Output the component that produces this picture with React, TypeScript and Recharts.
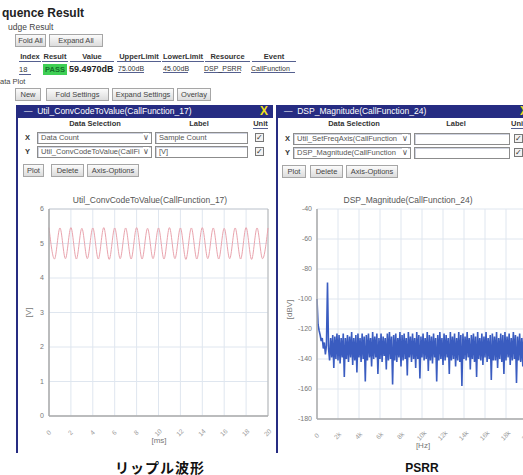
import React from "react";
import { CartesianGrid, Line, LineChart, ReferenceLine, XAxis, YAxis } from "recharts";

// ripple waveform (Util_ConvCodeToValue), one peak / trough every 0.5 ms
const RIPPLE_STEP_MS = 0.5;
const rippleVolts = [
  5.46, 4.55, 5.45, 4.56, 5.46, 4.55, 5.44, 4.56, 5.45, 4.55, 5.46, 4.54, 5.45, 4.56, 5.45, 4.55, 5.46, 4.55, 5.44, 4.56,
  5.45, 4.55, 5.46, 4.56, 5.45, 4.54, 5.45, 4.55, 5.46, 4.56, 5.45, 4.55, 5.44, 4.56, 5.45, 4.55, 5.46, 4.54, 5.45, 4.56,
  5.45,
];
const rippleMsTicks = [0, 2, 4, 6, 8, 10, 12, 14, 16, 18, 20];
const rippleVoltTicks = [0, 1, 2, 3, 4, 5, 6];

// PSRR spectrum (DSP_Magnitude), 100 Hz bins
const PSRR_BIN_HZ = 100;
const psrrDbv = [
  -100, -117, -121, -124, -128, -126, -133, -129, -137, -131, -89, -133, -141, -126, -139, -124, -146, -125, -140, -123,
  -141, -124, -143, -126, -139, -123, -152, -126, -140, -124, -142, -125, -139, -122, -144, -126, -141, -124, -149, -123,
  -139, -126, -142, -123, -140, -125, -155, -124, -141, -123, -139, -126, -145, -122, -140, -125, -139, -123, -150, -126,
  -140, -123, -142, -125, -138, -126, -147, -123, -141, -122, -140, -125, -157, -124, -141, -123, -142, -126, -139, -122,
  -145, -124, -141, -123, -140, -126, -151, -122, -139, -125, -142, -123, -140, -126, -146, -122, -140, -124, -153, -125,
  -139, -123, -141, -126, -140, -122, -148, -124, -141, -125, -143, -123, -139, -126, -155, -124, -141, -122, -140, -126,
  -144, -123, -141, -124, -139, -126, -150, -122, -141, -125, -140, -123, -145, -126, -141, -122, -142, -124, -158, -123,
  -140, -125, -141, -122, -139, -126, -147, -124, -140, -123, -142, -125, -152, -122, -140, -126, -141, -123, -144, -125,
  -139, -122, -142, -126, -140, -124, -154, -123, -141, -125, -141, -122, -146, -126, -140, -123, -142, -124, -150, -122,
  -141, -125, -139, -123, -144, -126, -141, -122, -140, -124, -156, -125, -141, -123, -142, -126, -145, -122, -140, -124,
  -141,
];
const psrrHzTicks = [0, 2000, 4000, 6000, 8000, 10000, 12000, 14000, 16000, 18000, 20000];
const psrrHzLabels = ["0", "2k", "4k", "6k", "8k", "10k", "12k", "14k", "16k", "18k", "20k"];
const psrrDbTicks = [-180, -160, -140, -120, -100, -80, -60, -40];

const rippleData = rippleVolts.map((v, i) => ({ t: i * RIPPLE_STEP_MS, v }));
const psrrData = psrrDbv.map((db, i) => ({ f: i * PSRR_BIN_HZ, db }));

const FONT = '"Liberation Sans", Arial, sans-serif';
const NAVY = "#262c82";

const abs = (x: number, y: number, w?: number, h?: number, extra: React.CSSProperties = {}): React.CSSProperties => ({
  position: "absolute",
  left: x,
  top: y,
  width: w,
  height: h,
  boxSizing: "border-box",
  whiteSpace: "nowrap",
  ...extra,
});

function Txt({ x, y, t, size = 8, bold = false, color = "#333", w, align, underline }: any) {
  return (
    <div
      style={abs(x, y, w, undefined, {
        fontSize: size,
        fontWeight: bold ? 700 : 400,
        color,
        textAlign: align,
        lineHeight: "normal",
        borderBottom: underline ? "1px solid #55608f" : undefined,
      })}
    >
      {t}
    </div>
  );
}

function Btn({ x, y, w, h = 13, t }: any) {
  return (
    <div
      style={abs(x, y, w, h, {
        border: "1px solid #a6a6a6",
        background: "linear-gradient(#fbfbfb, #dcdcdc)",
        fontSize: 7.5,
        lineHeight: `${h - 2}px`,
        textAlign: "center",
        color: "#444",
      })}
    >
      {t}
    </div>
  );
}

function Select({ x, y, w, t }: any) {
  return (
    <div
      style={abs(x, y, w, 12, {
        border: "1px solid #8c8c8c",
        boxShadow: "inset 1px 1px 0 #cfd3e0",
        fontSize: 7.5,
        lineHeight: "10px",
        paddingLeft: 3,
        color: "#555",
        overflow: "hidden",
        background: "#fff",
      })}
    >
      {t}
      <span style={{ position: "absolute", right: 2, top: 0, fontSize: 8, color: "#555", background: "#fff" }}>∨</span>
    </div>
  );
}

function Input({ x, y, w, t = "" }: any) {
  return (
    <div
      style={abs(x, y, w, 12, {
        border: "1px solid #8c8c8c",
        boxShadow: "inset 1px 1px 0 #cfd3e0",
        fontSize: 7.5,
        lineHeight: "10px",
        paddingLeft: 3,
        color: "#555",
      })}
    >
      {t}
    </div>
  );
}

function Check({ x, y }: any) {
  return (
    <div
      style={abs(x, y, 9, 9, {
        border: "1px solid #777",
        fontSize: 8,
        lineHeight: "7px",
        textAlign: "center",
        color: "#333",
        background: "#f2f2f2",
      })}
    >
      ✓
    </div>
  );
}

function WinFrame({ x, w, title }: any) {
  return (
    <>
      <div style={abs(x, 105, w, 13, { background: NAVY })} />
      <div style={abs(x - 1, 105, 2, 348, { background: NAVY })} />
      <div style={abs(x + 7, 106, undefined, undefined, { fontSize: 8.5, color: "#fff", lineHeight: "11px" })}>
        —&nbsp;&nbsp;{title}
      </div>
      <div
        style={abs(x + w - 13, 104, undefined, undefined, {
          fontSize: 12,
          fontWeight: 700,
          color: "#f3e11a",
          lineHeight: "14px",
        })}
      >
        X
      </div>
    </>
  );
}

function RotTick(props: any) {
  const { x, y, payload, labels, ticks } = props;
  const idx = ticks ? ticks.indexOf(payload.value) : -1;
  const label = labels && idx >= 0 ? labels[idx] : String(payload.value);
  const ty = y + 9;
  return (
    <text
      x={x}
      y={ty}
      transform={`rotate(-45 ${x} ${ty})`}
      textAnchor="middle"
      dominantBaseline="middle"
      fontSize={6.5}
      fill="#9a9a9a"
      fontFamily={FONT}
    >
      {label}
    </text>
  );
}

const yTick = { fontSize: 7, fill: "#777", fontFamily: FONT };

export default function App() {
  return (
    <div
      style={{
        position: "fixed",
        left: 0,
        top: 0,
        width: 523,
        height: 475,
        overflow: "hidden",
        background: "#fff",
        fontFamily: FONT,
      }}
    >
      {/* page header */}
      <Txt x={2} y={6} t="quence Result" size={12} bold color="#222" />
      <Txt x={8} y={22} t="udge Result" size={8.5} color="#444" />
      <Btn x={15} y={34} w={31} t="Fold All" />
      <Btn x={49} y={34} w={54} t="Expand All" />

      {/* judge table */}
      <Txt x={19} y={52} w={22} t="Index" bold align="center" underline size={7.5} />
      <Txt x={42} y={52} w={26} t="Result" bold align="center" underline size={7.5} />
      <Txt x={70} y={52} w={44} t="Value" bold align="center" underline size={7.5} />
      <Txt x={117} y={52} w={44} t="UpperLimit" bold align="center" underline size={7.5} />
      <Txt x={162} y={52} w={42} t="LowerLimit" bold align="center" underline size={7.5} />
      <Txt x={205} y={52} w={45} t="Resource" bold align="center" underline size={7.5} />
      <Txt x={252} y={52} w={44} t="Event" bold align="center" underline size={7.5} />

      <Txt x={19} y={65} w={12} t="18" underline size={7.5} />
      <div
        style={abs(43, 64, 24, 11, {
          background: "#3fcf55",
          color: "#13702a",
          fontSize: 7.5,
          fontWeight: 700,
          textAlign: "center",
          lineHeight: "11px",
        })}
      >
        PASS
      </div>
      <Txt x={69} y={64} t="59.4970dB" size={9} bold color="#222" />
      <Txt x={118} y={65} w={26} t="75.00dB" underline size={7} />
      <Txt x={163} y={65} w={25} t="45.00dB" underline size={7} />
      <Txt x={204} y={65} w={37} t="DSP_PSRR" underline size={7} />
      <Txt x={251} y={65} w={44} t="CallFunction" underline size={7} />

      <Txt x={0} y={77} t="ata Plot" size={7.5} color="#444" />
      <Btn x={15} y={88} w={26} t="New" />
      <Btn x={46} y={88} w={63} t="Fold Settings" />
      <Btn x={112} y={88} w={62} t="Expand Settings" />
      <Btn x={177} y={88} w={34} t="Overlay" />

      {/* left window */}
      <WinFrame x={17} w={256} title="Util_ConvCodeToValue(CallFunction_17)" />
      <Txt x={45} y={119} w={100} t="Data Selection" bold align="center" size={7.5} />
      <Txt x={179} y={119} w={40} t="Label" bold align="center" size={7.5} />
      <Txt x={253} y={119} w={15} t="Unit" bold align="center" underline size={7.5} />
      <Txt x={25} y={133} t="X" bold size={7.5} />
      <Select x={37} y={132} w={115} t="Data Count" />
      <Input x={155} y={132} w={93} t="Sample Count" />
      <Check x={255} y={133} />
      <Txt x={25} y={147} t="Y" bold size={7.5} />
      <Select x={37} y={146} w={115} t="Util_ConvCodeToValue(CallFi" />
      <Input x={155} y={146} w={93} t="[V]" />
      <Check x={255} y={147} />
      <Btn x={23} y={164} w={21} t="Plot" />
      <Btn x={51} y={164} w={33} t="Delete" />
      <Btn x={87} y={164} w={52} t="Axis-Options" />

      {/* right window */}
      <WinFrame x={277} w={256} title="DSP_Magnitude(CallFunction_24)" />
      <Txt x={304} y={119} w={100} t="Data Selection" bold align="center" size={7.5} />
      <Txt x={436} y={119} w={40} t="Label" bold align="center" size={7.5} />
      <Txt x={511} y={119} w={16} t="Unit" bold underline size={7.5} />
      <Txt x={285} y={134} t="X" bold size={7.5} />
      <Select x={293} y={133} w={118} t="Util_SetFreqAxis(CallFunction" />
      <Input x={414} y={133} w={96} />
      <Check x={514} y={134} />
      <Txt x={285} y={148} t="Y" bold size={7.5} />
      <Select x={293} y={147} w={118} t="DSP_Magnitude(CallFunction" />
      <Input x={414} y={147} w={96} />
      <Check x={514} y={148} />
      <Btn x={282} y={165} w={24} t="Plot" />
      <Btn x={310} y={165} w={33} t="Delete" />
      <Btn x={346} y={165} w={52} t="Axis-Options" />

      {/* ripple chart */}
      <div style={abs(20, 195, 260, undefined, { fontSize: 8.5, color: "#555", textAlign: "center" })}>
        Util_ConvCodeToValue(CallFunction_17)
      </div>
      <div style={abs(19, 190, 256, 262)}>
        <LineChart width={256} height={262} data={rippleData} margin={{ top: 19, right: 7, left: 0, bottom: 12 }}>
          <CartesianGrid stroke="#dfe6ef" strokeWidth={1} />
          <XAxis
            dataKey="t"
            type="number"
            domain={[0, 20]}
            ticks={rippleMsTicks}
            interval={0}
            height={24}
            axisLine={{ stroke: "#aaa", strokeWidth: 1.5 }}
            tickLine={false}
            tick={(p: any) => <RotTick {...p} />}
          />
          <YAxis
            type="number"
            domain={[0, 6]}
            ticks={rippleVoltTicks}
            width={30}
            axisLine={{ stroke: "#aaa", strokeWidth: 1.5 }}
            tickLine={false}
            tickSize={3}
            tickMargin={2}
            tick={yTick}
          />
          <ReferenceLine y={6} stroke="#c9ccd2" />
          <ReferenceLine x={20} stroke="#b5b5b5" />
          <Line
            type="monotone"
            dataKey="v"
            stroke="#e9a3ad"
            strokeWidth={1}
            dot={false}
            isAnimationActive={false}
          />
        </LineChart>
      </div>
      <div
        style={abs(24, 308, undefined, undefined, {
          fontSize: 8,
          color: "#777",
          transform: "rotate(-90deg)",
        })}
      >
        [V]
      </div>
      <div style={abs(129, 436, 60, undefined, { fontSize: 8, color: "#777", textAlign: "center" })}>[ms]</div>

      {/* PSRR chart */}
      <div style={abs(280, 195, 256, undefined, { fontSize: 8.5, color: "#555", textAlign: "center" })}>
        DSP_Magnitude(CallFunction_24)
      </div>
      <div style={abs(280, 190, 256, 262)}>
        <LineChart width={256} height={262} data={psrrData} margin={{ top: 19, right: 9, left: 0, bottom: 9 }}>
          <CartesianGrid stroke="#dfe6ef" strokeWidth={1} />
          <XAxis
            dataKey="f"
            type="number"
            domain={[0, 20000]}
            ticks={psrrHzTicks}
            interval={0}
            height={24}
            axisLine={{ stroke: "#aaa", strokeWidth: 1.5 }}
            tickLine={false}
            tick={(p: any) => <RotTick {...p} labels={psrrHzLabels} ticks={psrrHzTicks} />}
          />
          <YAxis
            type="number"
            domain={[-180, -40]}
            ticks={psrrDbTicks}
            width={37}
            axisLine={{ stroke: "#aaa", strokeWidth: 1.5 }}
            tickLine={false}
            tickSize={3}
            tickMargin={2}
            tick={yTick}
          />
          <Line
            type="linear"
            dataKey="db"
            stroke="#3a5cc0"
            strokeWidth={1.6}
            strokeLinejoin="bevel"
            dot={false}
            isAnimationActive={false}
          />
        </LineChart>
      </div>
      <div
        style={abs(280, 305, undefined, undefined, {
          fontSize: 8,
          color: "#777",
          transform: "rotate(-90deg)",
        })}
      >
        [dBV]
      </div>
      <div style={abs(393, 441, 60, undefined, { fontSize: 8, color: "#777", textAlign: "center" })}>[Hz]</div>

      {/* captions */}
      <div
        style={abs(100, 457, 120, undefined, {
          fontFamily: '"Noto Sans CJK JP", sans-serif',
          fontSize: 14,
          fontWeight: 700,
          color: "#111",
          textAlign: "center",
          letterSpacing: 1,
        })}
      >
        リップル波形
      </div>
      <div style={abs(392, 461, 60, undefined, { fontSize: 12, fontWeight: 700, color: "#111", textAlign: "center" })}>
        PSRR
      </div>
    </div>
  );
}
